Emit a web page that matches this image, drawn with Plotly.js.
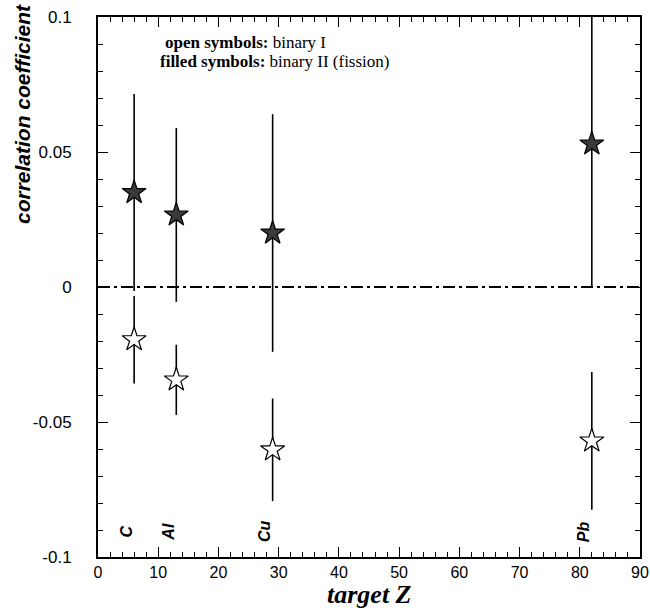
<!DOCTYPE html>
<html>
<head>
<meta charset="utf-8">
<script src="https://cdn.plot.ly/plotly-3.0.1.min.js"></script>
<style>html,body{margin:0;padding:0;background:#fff;}</style>
</head>
<body>
<div id="chart" style="width:650px;height:610px;"></div>
<script>
// Data
const elements = ["C", "Al", "Cu", "Pb"];
const targetZ = [6, 13, 29, 82];
// binary I (open symbols)
const binaryI = [-0.0195, -0.0344, -0.0603, -0.0570];
const binaryIErr = [0.0162, 0.0130, 0.0190, 0.0255];
// binary II (fission, filled symbols)
const binaryII = [0.0350, 0.0267, 0.0200, 0.0530];
const binaryIIErr = [0.0365, 0.0322, 0.0440, 0.0530];
const xTickVals = [0, 10, 20, 30, 40, 50, 60, 70, 80, 90];
const yTickVals = [-0.1, -0.05, 0, 0.05, 0.1];
const yTickText = ["-0.1", "-0.05", "0", "0.05", "0.1"];

const traces = [
  {
    x: targetZ, y: binaryII, type: 'scatter', mode: 'markers', name: 'binary II (fission)',
    error_y: {type: 'data', array: binaryIIErr, visible: true, color: '#000', thickness: 1.6, width: 0},
    marker: {symbol: 'star', size: 18, color: '#3a3a3a', line: {color: '#000', width: 1.2}},
    showlegend: false
  },
  {
    x: targetZ, y: binaryI, type: 'scatter', mode: 'markers', name: 'binary I',
    error_y: {type: 'data', array: binaryIErr, visible: true, color: '#000', thickness: 1.6, width: 0},
    marker: {symbol: 'star', size: 18, color: '#fff', line: {color: '#000', width: 1.2}},
    showlegend: false
  }
];

const serif = 'Liberation Serif, Times New Roman, serif';
const sans = 'Liberation Sans, Arial, sans-serif';
const annotations = [
  {xref: 'paper', yref: 'paper', x: 0.12, y: 0.952, xanchor: 'left', yanchor: 'middle', showarrow: false,
   text: '<b>open symbols:</b> binary I', font: {family: serif, size: 17, color: '#000'}},
  {xref: 'paper', yref: 'paper', x: 0.111, y: 0.917, xanchor: 'left', yanchor: 'middle', showarrow: false,
   text: '<b>filled symbols:</b> binary II (fission)', font: {family: serif, size: 17, color: '#000'}},
  // y-axis title (placed at the top-left as in the reference)
  {xref: 'paper', yref: 'paper', x: 0, y: 1, xanchor: 'center', yanchor: 'top', xshift: -76, yshift: 15,
   showarrow: false, textangle: -90,
   text: '<b><i>correlation coefficient</i></b>', font: {family: sans, size: 21, color: '#000'}},
  // x-axis title
  {xref: 'paper', yref: 'paper', x: 0.5, y: 0, xanchor: 'center', yanchor: 'middle', yshift: -37,
   showarrow: false,
   text: '<b><i>target Z</i></b>', font: {family: serif, size: 26, color: '#000'}}
];
elements.forEach((el, i) => {
  annotations.push({
    x: targetZ[i], y: -0.0905, xref: 'x', yref: 'y', xshift: -8, showarrow: false, textangle: -90,
    text: '<b><i>' + el + '</i></b>', font: {family: sans, size: 16, color: '#000'}
  });
});

const layout = {
  width: 650, height: 610,
  margin: {l: 98, r: 10, t: 17, b: 53},
  paper_bgcolor: '#fff', plot_bgcolor: '#fff',
  font: {family: sans, color: '#000'},
  xaxis: {
    range: [0, 90], tickvals: xTickVals, ticks: 'inside', ticklen: 10, tickwidth: 1, tickcolor: '#000',
    minor: {dtick: 2, ticks: 'inside', ticklen: 5, tickwidth: 1, tickcolor: '#000', showgrid: false},
    showline: true, linewidth: 2, linecolor: '#000', mirror: 'ticks', showgrid: false, zeroline: false,
    tickfont: {size: 16, family: sans}
  },
  yaxis: {
    range: [-0.1, 0.1], tickvals: yTickVals, ticktext: yTickText, ticks: 'inside', ticklen: 10, tickwidth: 1, tickcolor: '#000',
    minor: {dtick: 0.01, ticks: 'inside', ticklen: 5, tickwidth: 1, tickcolor: '#000', showgrid: false},
    showline: true, linewidth: 2, linecolor: '#000', mirror: 'ticks', showgrid: false, zeroline: false,
    tickfont: {size: 17, family: sans}, ticklabelstandoff: 21
  },
  shapes: [
    {type: 'line', xref: 'paper', x0: 0, x1: 1, yref: 'y', y0: 0, y1: 0,
     line: {color: '#000', width: 1.8, dash: '12px,4px,3px,4px'}, layer: 'below'}
  ],
  annotations: annotations
};

Plotly.newPlot('chart', traces, layout, {displayModeBar: false, staticPlot: true});
</script>
</body>
</html>
